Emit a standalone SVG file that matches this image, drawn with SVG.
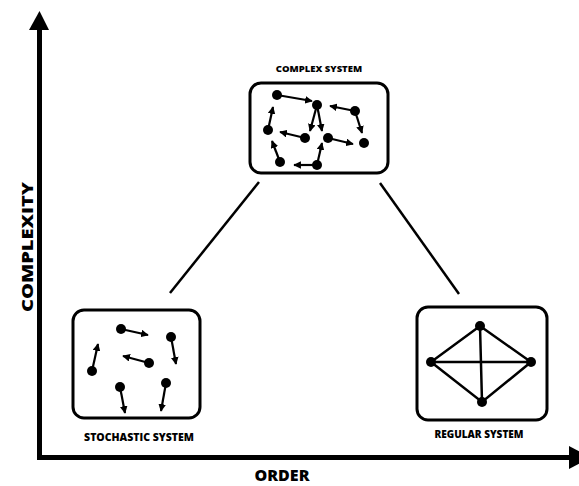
<svg xmlns="http://www.w3.org/2000/svg" width="579" height="486" viewBox="0 0 579 486">
<style>
.box{fill:#fff;stroke:#000;stroke-width:3}
.ln{stroke:#000;stroke-width:2.5;fill:none}
.ar{stroke:#000;stroke-width:2.2;fill:none;marker-end:url(#ah)}
.dot{fill:#000}
.lbl{font-family:"Open Sans","Liberation Sans",sans-serif;font-weight:800;font-size:9.5px;text-anchor:middle;fill:#000}
.ax{font-family:"Open Sans","Liberation Sans",sans-serif;font-weight:800;font-size:16px;text-anchor:middle;fill:#000}
</style>
<defs>
<marker id="ah" viewBox="0 0 10 10" refX="9" refY="5" markerWidth="3.5" markerHeight="3.5" orient="auto" markerUnits="strokeWidth">
<path d="M0,0 L10,5 L0,10 z" fill="#000"/>
</marker>
</defs>
<rect width="579" height="486" fill="#fff"/>
<g id="axes">
<polyline points="39.5,28 39.5,457.5 572,457.5" fill="none" stroke="#000" stroke-width="5"/>
<polygon points="39.5,11 29,30 49,30" fill="#000"/>
<polygon points="569,446 569,469 591,457.5" fill="#000"/>
<text class="ax" x="0" y="0" transform="translate(32.5,247) rotate(-90) scale(1.25,1)">COMPLEXITY</text>
<text class="ax" x="282" y="481">ORDER</text>
</g>
<g id="connectors">
<line class="ln" x1="259" y1="182" x2="170" y2="293"/>
<line class="ln" x1="380" y1="183" x2="459" y2="294"/>
</g>
<g id="complex">
<text class="lbl" x="319" y="72">COMPLEX SYSTEM</text>
<rect class="box" x="250" y="83" width="138" height="90" rx="11"/>
<circle class="dot" cx="277" cy="95" r="5"/>
<circle class="dot" cx="317" cy="105" r="5"/>
<circle class="dot" cx="355" cy="111" r="5"/>
<circle class="dot" cx="364" cy="143" r="5"/>
<circle class="dot" cx="268" cy="130" r="5"/>
<circle class="dot" cx="305" cy="138" r="5"/>
<circle class="dot" cx="328" cy="138" r="5"/>
<circle class="dot" cx="280" cy="162" r="5"/>
<circle class="dot" cx="317" cy="165" r="5"/>
<path class="ar" d="M277,95 L312,101"/>
<path class="ar" d="M355,111 L330,106"/>
<path class="ar" d="M355,111 L362,133"/>
<path class="ar" d="M268,130 L273,107"/>
<path class="ar" d="M305,138 L280,132"/>
<path class="ar" d="M317,105 L310,131"/>
<path class="ar" d="M317,105 L322,131"/>
<path class="ar" d="M328,138 L353,144"/>
<path class="ar" d="M280,162 L272,141"/>
<path class="ar" d="M317,165 L294,165"/>
<path class="ar" d="M317,165 L322,143"/>
</g>
<g id="stochastic">
<rect class="box" x="73" y="310" width="127" height="108" rx="11"/>
<circle class="dot" cx="121" cy="329" r="5"/>
<circle class="dot" cx="171" cy="337" r="5"/>
<circle class="dot" cx="92" cy="371" r="5"/>
<circle class="dot" cx="149" cy="363" r="5"/>
<circle class="dot" cx="120" cy="387" r="5"/>
<circle class="dot" cx="166" cy="383" r="5"/>
<path class="ar" d="M121,329 L148,335"/>
<path class="ar" d="M171,337 L176,364"/>
<path class="ar" d="M92,371 L98,344"/>
<path class="ar" d="M149,363 L123,356"/>
<path class="ar" d="M120,387 L125,413"/>
<path class="ar" d="M166,383 L161,411"/>
<text class="lbl" x="139" y="441" style="font-size:10.5px">STOCHASTIC SYSTEM</text>
</g>
<g id="regular">
<rect class="box" x="417" y="307" width="130" height="113" rx="11"/>
<path class="ln" d="M480,326 L531,362 L482,402 L431,362 Z M431,362 L531,362 M480,326 L482,402"/>
<circle class="dot" cx="480" cy="326" r="5"/>
<circle class="dot" cx="431" cy="362" r="5"/>
<circle class="dot" cx="531" cy="362" r="5"/>
<circle class="dot" cx="482" cy="402" r="5"/>
<text class="lbl" x="479" y="438" style="font-size:10px">REGULAR SYSTEM</text>
</g>
</svg>
